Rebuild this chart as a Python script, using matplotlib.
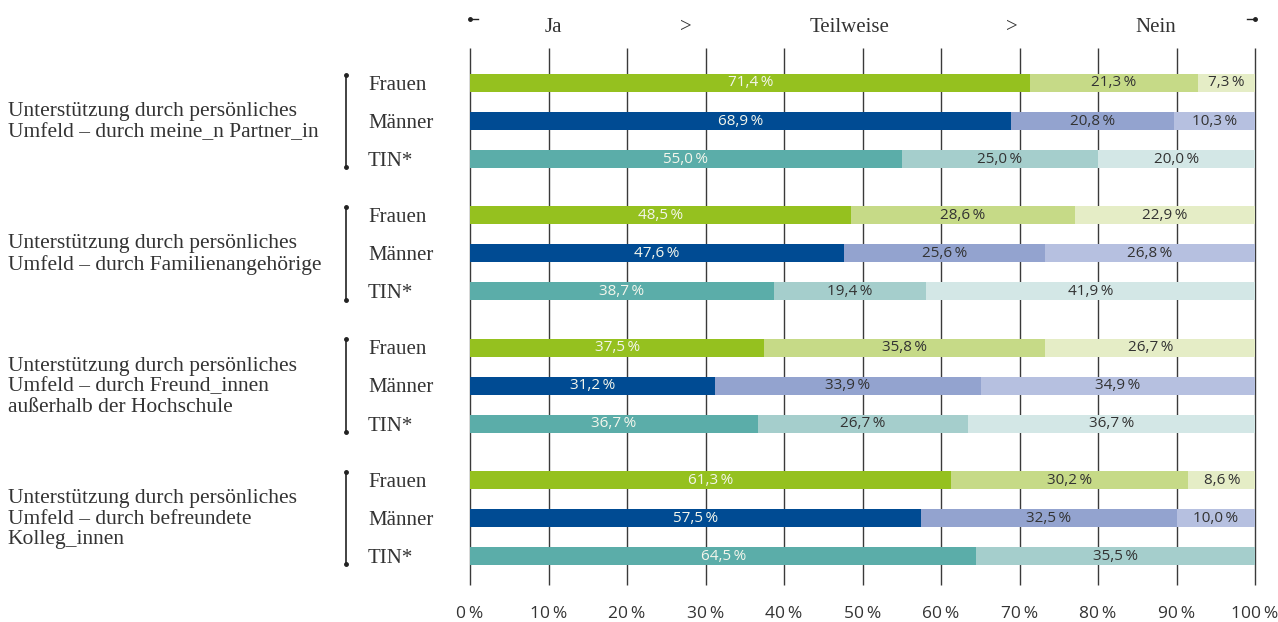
import numpy as np
import matplotlib
matplotlib.use("Agg")
import matplotlib.pyplot as plt

# Antworten je Gruppe: Ja / Teilweise / Nein (in %)
groups = [
    "Unterstützung durch persönliches\nUmfeld – durch meine_n Partner_in",
    "Unterstützung durch persönliches\nUmfeld – durch Familienangehörige",
    "Unterstützung durch persönliches\nUmfeld – durch Freund_innen\naußerhalb der Hochschule",
    "Unterstützung durch persönliches\nUmfeld – durch befreundete\nKolleg_innen",
]
genders = ["Frauen", "Männer", "TIN*"]
answers = ["Ja", "Teilweise", "Nein"]

ja = [
    [71.4, 68.9, 55.0],
    [48.5, 47.6, 38.7],
    [37.5, 31.2, 36.7],
    [61.3, 57.5, 64.5],
]
teilweise = [
    [21.3, 20.8, 25.0],
    [28.6, 25.6, 19.4],
    [35.8, 33.9, 26.7],
    [30.2, 32.5, 35.5],
]
nein = [
    [7.3, 10.3, 20.0],
    [22.9, 26.8, 41.9],
    [26.7, 34.9, 36.7],
    [8.6, 10.0, 0.0],
]
xticks = [0, 10, 20, 30, 40, 50, 60, 70, 80, 90, 100]

colors = {
    "Frauen": ["#95C11F", "#C6DA87", "#E5EDC6"],
    "Männer": ["#004B93", "#93A3CF", "#B6C0E0"],
    "TIN*": ["#5BADA9", "#A5CECC", "#D3E7E6"],
}

SERIF = ["Liberation Serif", "DejaVu Serif"]
SANS = ["Open Sans", "DejaVu Sans"]
TXT = "#333333"
THIN = "\u2009"

W, H = 1278, 622
fig = plt.figure(figsize=(W / 100, H / 100), dpi=100)
ax = fig.add_axes([470 / W, 1 - 585 / H, 785 / W, 537 / H])

GROUP_STEP = 3.48
BAR_H = 0.47

for g in range(len(groups)):
    for r, gen in enumerate(genders):
        y = g * GROUP_STEP + r
        vals = [ja[g][r], teilweise[g][r], nein[g][r]]
        left = 0
        for k, v in enumerate(vals):
            if v <= 0:
                continue
            ax.barh(y, v, left=left, height=BAR_H, color=colors[gen][k],
                    edgecolor="none", zorder=2)
            lc = "#F4F6EC" if k == 0 else TXT
            ax.text(left + v / 2, y, f"{v:.1f}{THIN}%".replace(".", ","),
                    ha="center", va="center", fontsize=11, color=lc,
                    family=SANS, zorder=3)
            left += v
        # Geschlecht links der Balken
        ax.text(-13.0, y + 0.06, gen, ha="left", va="center", fontsize=15,
                color=TXT, family=SERIF, clip_on=False)

    # Klammer je Gruppe
    y0 = g * GROUP_STEP - 0.22
    y1 = g * GROUP_STEP + 2 + 0.22
    ax.plot([-15.8, -15.8], [y0, y1], color="#222222", lw=1.2,
            clip_on=False, zorder=3)
    ax.plot([-15.8, -15.8], [y0, y1], "o", color="#222222", ms=2.5,
            clip_on=False, zorder=3)
    ax.text(-58.9, g * GROUP_STEP + 1.03, groups[g], ha="left", va="center",
            fontsize=15.5, color=TXT, family=SERIF, linespacing=1.12,
            clip_on=False)

ymax = (len(groups) - 1) * GROUP_STEP + 2 + 0.76
ax.set_ylim(ymax, -0.92)
ax.set_xlim(0, 100)

ax.vlines(xticks, -0.92, ymax, color="#3a3a3a", lw=1, zorder=1,
          clip_on=False)

ax.set_xticks(xticks)
ax.set_xticklabels([f"{x}{THIN}%" for x in xticks], fontsize=12.5,
                   color=TXT, family=SANS)
ax.tick_params(axis="x", length=0, pad=15)
ax.set_yticks([])
for s in ax.spines.values():
    s.set_visible(False)

# Kopfzeile mit Antwortskala
yh = -1.45
head = [(10.6, "Ja"), (27.5, ">"), (48.3, "Teilweise"), (69.0, ">"),
        (87.3, "Nein")]
for x, t in head:
    ax.text(x, yh, t, ha="center", va="center", fontsize=15, color=TXT,
            family=SERIF, clip_on=False)
ya = -1.68
ax.plot([0, 1.0], [ya, ya], color="#222222", lw=1, clip_on=False)
ax.plot([0], [ya], "o", color="#222222", ms=2.5, clip_on=False)
ax.plot([99.0, 100], [ya, ya], color="#222222", lw=1, clip_on=False)
ax.plot([100], [ya], "o", color="#222222", ms=2.5, clip_on=False)

fig.savefig("out.png", dpi=100)
